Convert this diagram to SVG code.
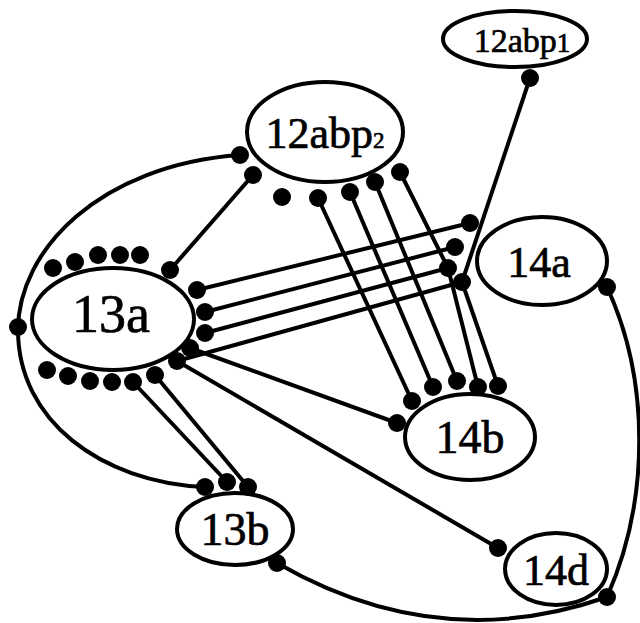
<svg xmlns="http://www.w3.org/2000/svg" width="640" height="623" viewBox="0 0 640 623">
  <style>
    .node ellipse { fill: #fff; stroke: #000; stroke-width: 4; }
    .node text { font-family: "Liberation Serif", "DejaVu Serif", serif; fill: #000; stroke: #000; stroke-width: 0.7; text-anchor: middle; }
    .edges path, .edges line { fill: none; stroke: #000; stroke-width: 4; }
    .dot { fill: #000; }
  </style>
  <rect width="640" height="623" fill="#fff"/>

  <!-- connectors -->
  <g id="connectors" class="edges">
    <path d="M240,155 C100,165 18,250 18,330 C18,420 100,482 205,487"/>
    <line x1="253" y1="175" x2="170" y2="270"/>
    <line x1="530" y1="78" x2="462" y2="282"/>
    <line x1="197" y1="290" x2="470" y2="223"/>
    <line x1="205" y1="312" x2="455" y2="247"/>
    <line x1="205" y1="333" x2="448" y2="268"/>
    <line x1="177" y1="361" x2="462" y2="282"/>
    <line x1="190" y1="348" x2="397" y2="423"/>
    <line x1="177" y1="361" x2="498" y2="548"/>
    <line x1="318" y1="198" x2="412" y2="401"/>
    <line x1="350" y1="192" x2="433" y2="387"/>
    <line x1="375" y1="182" x2="457" y2="381"/>
    <line x1="400" y1="172" x2="448" y2="268"/>
    <line x1="448" y1="268" x2="478" y2="387"/>
    <line x1="462" y1="282" x2="498" y2="386"/>
    <line x1="133" y1="382" x2="227" y2="482"/>
    <line x1="155" y1="375" x2="248" y2="487"/>
    <path d="M277,563 Q438,656 607,597"/>
    <path d="M607,287 C650,380 650,500 607,597"/>
  </g>

  <!-- nodes -->
  <g id="n12abp1" class="node">
    <ellipse cx="515" cy="39" rx="72" ry="28"/>
    <text x="522" y="52" font-size="34">12abp<tspan font-size="27">1</tspan></text>
  </g>
  <g id="n12abp2" class="node">
    <ellipse cx="325" cy="132" rx="78" ry="50"/>
    <text x="325" y="148" font-size="44">12abp<tspan font-size="23">2</tspan></text>
  </g>
  <g id="n13a" class="node">
    <ellipse cx="113" cy="319" rx="81" ry="51"/>
    <text x="111" y="332" font-size="54">13a</text>
  </g>
  <g id="n14a" class="node">
    <ellipse cx="542" cy="261" rx="65" ry="44"/>
    <text x="539" y="277" font-size="44">14a</text>
  </g>
  <g id="n14b" class="node">
    <ellipse cx="470" cy="437" rx="65" ry="43"/>
    <text x="470" y="453" font-size="46">14b</text>
  </g>
  <g id="n13b" class="node">
    <ellipse cx="235" cy="529" rx="58" ry="36"/>
    <text x="235" y="545" font-size="46">13b</text>
  </g>
  <g id="n14d" class="node">
    <ellipse cx="556" cy="569" rx="51" ry="36"/>
    <text x="556" y="585" font-size="44">14d</text>
  </g>

  <!-- terminal dots -->
  <g id="dots" class="dot">
    <circle cx="530" cy="78" r="9"/>
    <circle cx="240" cy="155" r="9"/>
    <circle cx="253" cy="175" r="9"/>
    <circle cx="282" cy="197" r="9"/>
    <circle cx="318" cy="198" r="9"/>
    <circle cx="350" cy="192" r="9"/>
    <circle cx="375" cy="182" r="9"/>
    <circle cx="400" cy="172" r="9"/>
    <circle cx="470" cy="223" r="9"/>
    <circle cx="455" cy="247" r="9"/>
    <circle cx="448" cy="268" r="9"/>
    <circle cx="462" cy="282" r="9"/>
    <circle cx="607" cy="287" r="9"/>
    <circle cx="53" cy="268" r="9"/>
    <circle cx="75" cy="262" r="9"/>
    <circle cx="98" cy="255" r="9"/>
    <circle cx="120" cy="255" r="9"/>
    <circle cx="140" cy="255" r="9"/>
    <circle cx="170" cy="270" r="9"/>
    <circle cx="197" cy="290" r="9"/>
    <circle cx="205" cy="312" r="9"/>
    <circle cx="205" cy="333" r="9"/>
    <circle cx="190" cy="348" r="9"/>
    <circle cx="177" cy="361" r="9"/>
    <circle cx="18" cy="327" r="9"/>
    <circle cx="47" cy="370" r="9"/>
    <circle cx="68" cy="376" r="9"/>
    <circle cx="90" cy="381" r="9"/>
    <circle cx="112" cy="382" r="9"/>
    <circle cx="133" cy="382" r="9"/>
    <circle cx="155" cy="375" r="9"/>
    <circle cx="412" cy="401" r="9"/>
    <circle cx="433" cy="387" r="9"/>
    <circle cx="457" cy="381" r="9"/>
    <circle cx="478" cy="387" r="9"/>
    <circle cx="498" cy="386" r="9"/>
    <circle cx="397" cy="423" r="9"/>
    <circle cx="205" cy="487" r="9"/>
    <circle cx="227" cy="482" r="9"/>
    <circle cx="248" cy="487" r="9"/>
    <circle cx="277" cy="563" r="9"/>
    <circle cx="498" cy="548" r="9"/>
    <circle cx="607" cy="597" r="9"/>
  </g>
</svg>
